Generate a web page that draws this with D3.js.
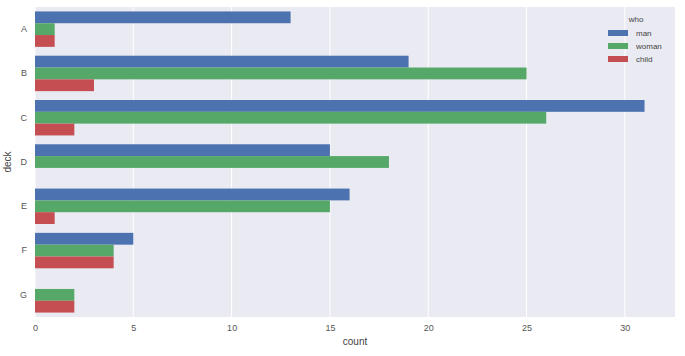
<!DOCTYPE html>
<html><head><meta charset="utf-8">
<script src="https://cdn.jsdelivr.net/npm/d3@7"></script>
<style>body{margin:0;background:#fff}svg{display:block}text{font-family:"Liberation Sans",Arial,sans-serif}</style>
</head><body>
<svg id="c" width="685" height="356"></svg>
<script>
const decks = ["A","B","C","D","E","F","G"];
const who = ["man","woman","child"];
const man   = [13,19,31,15,16,5,0];
const woman = [1,25,26,18,15,4,2];
const child = [1,3,2,0,1,4,2];
const xTicks = [0,5,10,15,20,25,30];
const colors = ["#4C72B0","#55A868","#C44E52"];

const series = [man, woman, child];
const svg = d3.select("#c");
const L = 35, R = 675, T = 7, B = 317;
const x = d3.scaleLinear().domain([0, 32.55]).range([L, R]);
const y = d3.scaleBand().domain(decks).range([T, B]).paddingInner(0.2).paddingOuter(0.1);
const y1 = d3.scaleBand().domain(who).range([0, y.bandwidth()]);

svg.append("rect").attr("x", L).attr("y", T).attr("width", R-L).attr("height", B-T).attr("fill", "#EAEAF2");
svg.append("g").selectAll("line").data(xTicks).join("line")
  .attr("x1", d=>x(d)).attr("x2", d=>x(d)).attr("y1", T).attr("y2", B)
  .attr("stroke", "#fff").attr("stroke-width", 1);

decks.forEach((d,i)=>{
  who.forEach((w,j)=>{
    const v = series[j][i];
    if (v>0) svg.append("rect").attr("x", x(0)).attr("y", y(d)+y1(w))
      .attr("width", x(v)-x(0)).attr("height", y1.bandwidth()).attr("fill", colors[j]);
  });
});

const xa = svg.append("g").attr("transform", `translate(0,${B})`)
  .call(d3.axisBottom(x).tickValues(xTicks).tickSize(0).tickPadding(8));
xa.select(".domain").remove();
xa.selectAll("text").attr("font-size", 9).attr("fill", "#555");

const ya = svg.append("g").attr("transform", `translate(${L},0)`)
  .call(d3.axisLeft(y).tickSize(0).tickPadding(8));
ya.select(".domain").remove();
ya.selectAll("text").attr("font-size", 9).attr("fill", "#555");

svg.append("text").attr("x", 355).attr("y", 345).attr("text-anchor","middle")
  .attr("font-size", 10).attr("fill","#444").text("count");
svg.append("text").attr("transform","translate(11,162) rotate(-90)").attr("text-anchor","middle")
  .attr("font-size", 10).attr("fill","#444").text("deck");

const lg = svg.append("g");
lg.append("text").attr("x", 636).attr("y", 22).attr("text-anchor","middle").attr("font-size", 8).attr("fill","#444").text("who");
who.forEach((w,j)=>{
  lg.append("rect").attr("x", 608).attr("y", 30 + j*13).attr("width", 20).attr("height", 6).attr("fill", colors[j]);
  lg.append("text").attr("x", 636).attr("y", 36 + j*13).attr("font-size", 8).attr("fill","#444").text(w);
});
</script>
</body></html>
